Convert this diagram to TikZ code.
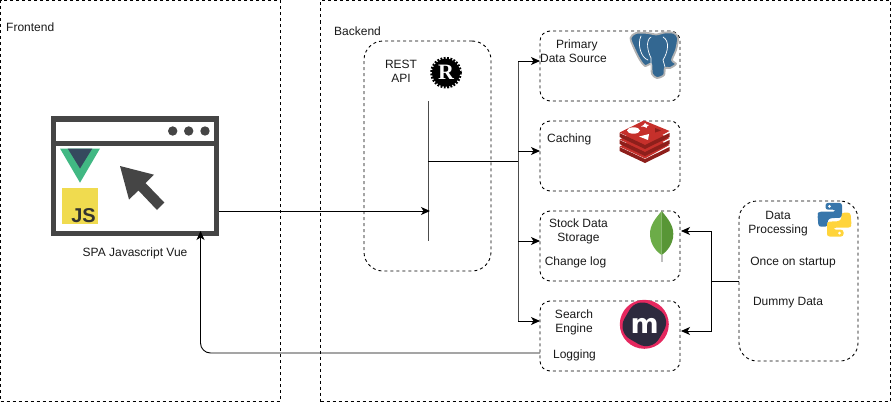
\documentclass[tikz,border=0pt]{standalone}
\usepackage{fontspec}
\setmainfont{Liberation Sans}
\newfontfamily\logoserif{Liberation Serif}
\newfontfamily\logosans{DejaVu Sans}
\usetikzlibrary{arrows.meta,calc}
\definecolor{ink}{HTML}{454545}
\definecolor{vuegreen}{HTML}{41B883}
\definecolor{vuedark}{HTML}{35495E}
\definecolor{jsyellow}{HTML}{F0DB4F}
\definecolor{jsdark}{HTML}{323330}
\definecolor{pgblue}{HTML}{336791}
\definecolor{redtop}{HTML}{C6302B}
\definecolor{redside}{HTML}{8E1F1B}
\definecolor{leafl}{HTML}{6CAC48}
\definecolor{leafr}{HTML}{589636}
\definecolor{pink}{HTML}{E5285F}
\definecolor{meili}{HTML}{2D2A3E}
\definecolor{pyblue}{HTML}{3776AB}
\definecolor{pyyellow}{HTML}{FFD43B}
\tikzset{
  zone/.style={draw=black,line width=.9pt,dash pattern=on 3pt off 3pt,inner sep=0pt,outer sep=0pt,anchor=north west},
  svc/.style={zone,rounded corners=10pt,minimum width=140pt,minimum height=70pt},
  lbl/.style={font=\fontsize{12}{14}\selectfont,inner sep=0pt,align=center,text=black!90},
  link/.style={draw=black,line width=.9pt},
  flow/.style={link,-{Stealth[length=9pt,width=8pt,inset=2.5pt]}},
}
\begin{document}
\begin{tikzpicture}[x=1pt,y=-1pt]
\useasboundingbox (0,0) rectangle (891,415);
% containers
\node[zone,minimum width=280pt,minimum height=400.5pt] (front) at (.5,.5) {};
\node[zone,minimum width=569.5pt,minimum height=401pt] (back) at (320.5,.5) {};
\node[zone,rounded corners=19pt,minimum width=127pt,minimum height=230pt] (rest) at (364,41) {};
\node[svc] (primary) at (540,31) {};
\node[svc] (caching) at (540,121) {};
\node[svc] (stock) at (540,211) {};
\node[svc] (search) at (540,301) {};
\node[zone,rounded corners=18pt,minimum width=119pt,minimum height=160pt] (proc) at (739,201) {};
% browser window
\node[draw=ink,line width=5.4pt,inner sep=0pt,outer sep=0pt,anchor=north west,minimum width=163pt,minimum height=114.5pt] (browser) at (53.5,119) {};
\fill[ink] (53.5,141) rectangle (216.5,146);
\fill[ink] (172.7,131) circle (4.7) (188.7,131) circle (4.7) (205,131) circle (4.7);
% vue
\fill[vuegreen] (60,148.5) -- (100,148.5) -- (80,182.7) -- cycle;
\fill[vuedark] (67.7,148.5) -- (92.3,148.5) -- (80,168.5) -- cycle;
% js
\fill[jsyellow] (62,188) rectangle (98,224);
\node[inner sep=0pt,text=jsdark,font=\fontsize{20}{20}\bfseries\selectfont,anchor=base east] (jslogo) at (96,222) {JS};
% pointer
\fill[ink] (120,166) -- (154,174.7) -- (145.5,183) -- (164.3,202.5) -- (157,210) -- (138.5,190.5) -- (129,199.5) -- cycle;
% connectors
\coordinate (barTop) at (428,101);
\coordinate (barBot) at (428,241);
\coordinate (barHit) at (430,211);
\coordinate (barOut) at (428,161);
\coordinate (busTop) at (518,61);
\coordinate (busBot) at (518,321);
\coordinate (busMid) at (518,161);
\coordinate (inPrimary) at (540,61);
\coordinate (inCaching) at (540,151);
\coordinate (inStock) at (540,241);
\coordinate (inSearch) at (540,321);
\coordinate (feedOut) at (739,281);
\coordinate (feedJoin) at (711,281);
\coordinate (inStockR) at (681,231);
\coordinate (inSearchR) at (681,331);
\coordinate (retOut) at (540,353);
\coordinate (retBend) at (200.5,353);
\coordinate (retIn) at (200.5,231);
\coordinate (brOut) at (219,211);
\draw[link,draw=black!70] (barTop) -- (barBot);
\draw[flow] (brOut) -- (barHit);
\draw[link] (barOut) -- (busMid);
\draw[link,draw=black!70] (busTop) -- (busBot);
\draw[flow] (busTop) -- (inPrimary);
\draw[flow] (inCaching -| busTop) -- (inCaching);
\draw[flow] (inStock -| busTop) -- (inStock);
\draw[flow] (busBot) -- (inSearch);
\draw[link] (feedOut) -- (feedJoin);
\draw[flow] (feedJoin) |- (inStockR);
\draw[flow] (feedJoin) |- (inSearchR);
\draw[flow,rounded corners=10pt,draw=black] (retOut) -- (retBend) -- (retIn);
% labels
\node[lbl,anchor=west] (tFront) at (6,27) {Frontend};
\node[lbl,anchor=west] (tBack) at (334,31) {Backend};
\node[lbl] (tSpa) at (135,253) {SPA Javascript Vue};
\node[lbl] (tRest) at (401,71) {REST\\API};
\node[lbl] (tPrim) at (573.5,51) {\ \ Primary\\Data Source};
\node[lbl,anchor=west] (tCache) at (547,139) {Caching};
\node[lbl] (tStock) at (578.5,231) {Stock Data\\Storage};
\node[lbl] (tLog) at (575.5,262) {Change log};
\node[lbl] (tSearch) at (574,322) {Search\\Engine};
\node[lbl] (tLogging) at (574.5,355) {Logging};
\node[lbl] (tProc) at (778,223.5) {Data\\Processing};
\node[lbl] (tOnce) at (793,263) {Once on startup};
\node[lbl] (tDummy) at (788,302.5) {Dummy Data};
% rust
\fill[black] (446,72.7) circle (14);
\draw[black,line width=2.6pt,dash pattern=on 1.8pt off 1.5pt] (446,72.7) circle (14.5);
\node[inner sep=0pt,text=white,font=\logoserif\fontsize{22}{22}\bfseries\selectfont] (rlogo) at (446,72.5) {R};
% postgres
\draw[line width=1.8pt,draw=black!30,fill=pgblue,line join=round] plot[smooth cycle,tension=.5] coordinates {
 (630.5,38) (636,33) (648,33) (656,34.5) (665,32.5) (674,33) (678,38) (676,50) (672,60) (676,64) (670,68) (665,68) (664,75) (657,78) (652,74) (651,64) (645,66) (640,60) (634,48)};
\draw[white,line width=.7pt,line cap=round] (641,36) .. controls (637,44) and (641,58) .. (648,60);
\draw[white,line width=.7pt,line cap=round] (651,37) .. controls (645,41) and (648,52) .. (651,58) -- (651,70);
\draw[white,line width=.7pt,line cap=round] (663,37) .. controls (670,41) and (668,52) .. (663,60) -- (665,67);
% redis
\foreach \dy/\nm in {14/a,7/b,0/c}{
  \fill[redside] (619.5,133+\dy) -- (645,145+\dy) -- (669.5,133+\dy) -- (669.5,137+\dy) -- (645,149+\dy) -- (619.5,137+\dy) -- cycle;
  \fill[redtop] (619.5,132.5+\dy) -- (644,120.5+\dy) -- (669.5,131+\dy) -- (645,144.5+\dy) -- cycle;
}
\fill[white] (633.5,130.5) ellipse (6.5 and 3.2);
\fill[white] (645,123) -- (646.5,124.5) -- (649,125) -- (647,126.5) -- (646.5,128) -- (644.5,126.8) -- (641,126.5) -- (643.5,125) -- cycle;
\fill[white] (639,136.5) -- (649,134) -- (648,140) -- cycle;
\fill[redside] (655,128) -- (661,130.5) -- (655,132.5) -- cycle;
% mongo
\fill[leafl] (661.7,211) .. controls (655,219) and (650,225) .. (650,234) .. controls (650,245) and (657,252) .. (661.7,255) -- cycle;
\fill[leafr] (661.7,211) .. controls (668,219) and (673.3,225) .. (673.3,234) .. controls (673.3,245) and (666,252) .. (661.7,255) -- cycle;
\fill[black!25] (661,255) rectangle (662.6,262);
% meilisearch
\fill[pink] (644.3,324.3) circle (24.5);
\fill[meili,rounded corners=15pt,rotate around={-30:(644.3,324.3)}] (624.3,304.3) rectangle (664.3,344.3);
\node[inner sep=0pt,text=white,font=\logosans\fontsize{27}{27}\bfseries\selectfont,anchor=base] (mlogo) at (644.7,333) {m};
% python
\begin{scope}[shift={(817.5,202.7)}]
 \fill[pyblue,rounded corners=2.5pt] (8,.2) -- (24.5,.2) -- (24.5,15) -- (12,15.5) -- (10,18) -- (10,24) -- (1,24) -- (0,12) -- (1,9) -- (18,9) -- (18,7) -- (8,7) -- cycle;
 \fill[pyyellow,rounded corners=2.5pt] (26,33.8) -- (9.5,33.8) -- (9.5,19) -- (22,18.5) -- (24,16) -- (24,10) -- (33,10) -- (34,22) -- (33,25) -- (16,25) -- (16,27) -- (26,27) -- cycle;
 \fill[white] (12,3.6) circle (1.5) (22,30.4) circle (1.5);
\end{scope}
\end{tikzpicture}
\end{document}
